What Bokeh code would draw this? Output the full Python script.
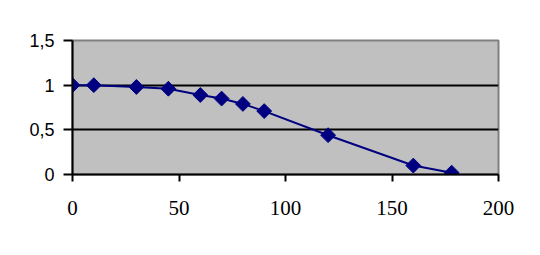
import numpy as np
from bokeh.plotting import figure
from bokeh.models import FixedTicker, Range1d
from bokeh.embed import file_html
from bokeh.resources import INLINE

x_vals = [0, 10, 30, 45, 60, 70, 80, 90, 120, 160, 178]
y_vals = [1.0, 1.0, 0.98, 0.96, 0.89, 0.85, 0.79, 0.71, 0.44, 0.10, 0.02]
x_ticks = [0, 50, 100, 150, 200]
y_ticks = [0, 0.5, 1, 1.5]
y_tick_labels = {0: "0", 0.5: "0,5", 1: "1", 1.5: "1,5"}

p = figure(width=540, height=255, output_backend="svg", toolbar_location=None,
           x_range=Range1d(0, 200), y_range=Range1d(0, 1.5),
           min_border_left=72, min_border_right=42, min_border_top=40, min_border_bottom=81)

p.background_fill_color = "#C0C0C0"
p.border_fill_color = "white"
p.outline_line_color = "#808080"
p.outline_line_width = 2

p.xgrid.visible = False
p.ygrid.ticker = FixedTicker(ticks=[0.5, 1.0])
p.ygrid.grid_line_color = "black"
p.ygrid.grid_line_width = 2

p.xaxis.ticker = FixedTicker(ticks=x_ticks)
p.yaxis.ticker = FixedTicker(ticks=y_ticks)
p.yaxis.major_label_overrides = y_tick_labels

for ax in (p.xaxis, p.yaxis):
    ax.axis_line_color = "black"
    ax.axis_line_width = 2
    ax.major_tick_line_color = "black"
    ax.major_tick_line_width = 2
    ax.major_tick_in = 0
    ax.minor_tick_line_color = None
    ax.major_label_text_color = "black"

p.xaxis.major_tick_out = 7
p.yaxis.major_tick_out = 9
p.xaxis.major_label_text_font = "Liberation Serif"
p.xaxis.major_label_text_font_size = "21px"
p.xaxis.major_label_standoff = 19
p.yaxis.major_label_text_font = "Liberation Sans"
p.yaxis.major_label_text_font_size = "18px"
p.yaxis.major_label_standoff = 9

p.line(x_vals, y_vals, line_color="#000080", line_width=2)
p.scatter(x_vals, y_vals, marker="square", angle=np.pi / 4, size=10.5,
          fill_color="#000080", line_color="#000080")

open("out.html", "w").write(file_html(p, INLINE))
